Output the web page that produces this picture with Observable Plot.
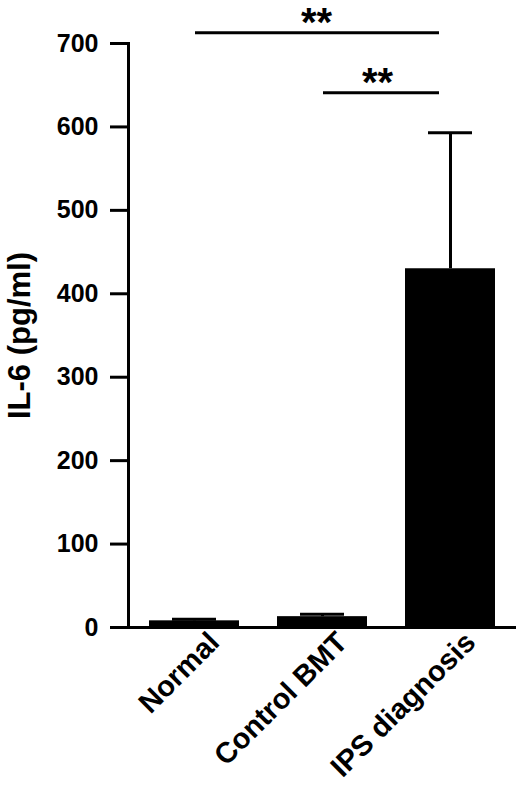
<!DOCTYPE html>
<html><head><meta charset="utf-8">
<script src="https://cdn.jsdelivr.net/npm/d3@7"></script>
<script src="https://cdn.jsdelivr.net/npm/@observablehq/plot@0.6"></script>
<style>body{margin:0;background:#fff;}</style>
</head><body><div id="chart"></div>
<script>
const categories = ["Normal", "Control BMT", "IPS diagnosis"];
const means = [8, 13, 430];
const errors = [2, 3, 163];
const yTicks = [0, 100, 200, 300, 400, 500, 600, 700];
const sigFrom = ["Normal", "Control BMT"];
const sigTo = ["IPS diagnosis", "IPS diagnosis"];
const sigY = [713, 641];
const sigLabel = ["**", "**"];
const yLabel = "IL-6 (pg/ml)";

const bars = categories.map((c, i) => ({category: c, mean: means[i], top: means[i] + errors[i]}));
const sig = sigFrom.map((f, i) => ({from: f, to: sigTo[i], y: sigY[i], label: sigLabel[i]}));

const font = "'Liberation Sans', Arial, Helvetica, sans-serif";
const chart = Plot.plot({
  width: 520, height: 787,
  marginTop: 43, marginBottom: 160, marginLeft: 128, marginRight: 4,
  style: {fontFamily: font, fontWeight: "bold", color: "#000", background: "#fff", overflow: "visible"},
  x: {domain: categories, paddingInner: 0.3, paddingOuter: 0.155},
  y: {domain: [0, 700]},
  marks: [
    Plot.barY(bars, {x: "category", y: "mean", fill: "#000"}),
    Plot.ruleX(bars, {x: "category", y1: "mean", y2: "top", strokeWidth: 3, stroke: "#000"}),
    Plot.tickY(bars, {x: "category", y: "top", strokeWidth: 3, stroke: "#000", insetLeft: 23, insetRight: 23}),
    Plot.ruleY([0], {strokeWidth: 3, stroke: "#000"}),
    Plot.frame({anchor: "left", strokeWidth: 3, stroke: "#000"}),
    Plot.axisY({ticks: yTicks, tickSize: 18, tickPadding: 12, strokeWidth: 3, fontSize: 25, label: null}),
    Plot.axisX({tickSize: 0, tickRotate: -45, tickPadding: 4, fontSize: 29, dx: 20, dy: 6, label: null}),
    Plot.ruleY(sig, {x1: "from", x2: "to", y: "y", strokeWidth: 3, stroke: "#000", insetLeft: 46, insetRight: 56}),
    Plot.text([sig[0]], {x: "to", y: "y", text: "label", dx: -134, dy: -9, fontSize: 40}),
    Plot.text([sig[1]], {x: "to", y: "y", text: "label", dx: -73, dy: -10, fontSize: 40}),
    Plot.text([yLabel], {frameAnchor: "left", textAnchor: "middle", rotate: -90, dx: -108, fontSize: 31})
  ]
});
document.getElementById("chart").appendChild(chart);
</script>
</body></html>
